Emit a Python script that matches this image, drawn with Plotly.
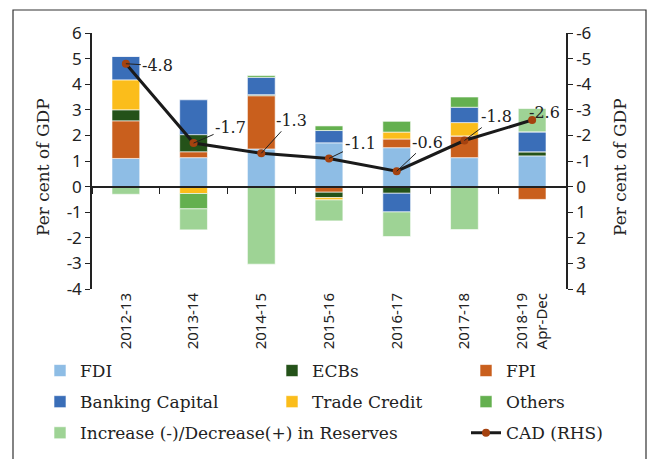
import plotly.graph_objects as go

categories = ["2012-13", "2013-14", "2014-15", "2015-16", "2016-17", "2017-18", "2018-19<br>Apr-Dec"]
fdi = [1.10, 1.13, 1.47, 1.71, 1.52, 1.13, 1.20]
fpi = [1.47, 0.23, 2.08, -0.22, 0.34, 0.85, -0.50]
ecbs = [0.43, 0.67, 0.04, -0.21, -0.26, 0.00, 0.16]
trade_credit = [1.17, -0.27, 0.00, -0.09, 0.27, 0.52, 0.00]
banking = [0.92, 1.36, 0.68, 0.48, -0.73, 0.60, 0.78]
others = [0.00, -0.60, 0.07, 0.18, 0.42, 0.40, 0.00]
reserves = [-0.30, -0.82, -3.03, -0.82, -0.96, -1.68, 0.91]
cad = [-4.8, -1.7, -1.3, -1.1, -0.6, -1.8, -2.6]
cad_labels = ["-4.8", "-1.7", "-1.3", "-1.1", "-0.6", "-1.8", "-2.6"]
label_offsets = [(32, 2), (37, -16), (30, -33), (31, -15), (31, -29), (32, -24), (12, -8)]

left_tick_vals = [-4, -3, -2, -1, 0, 1, 2, 3, 4, 5, 6]
left_tick_text = ["-4", "-3", "-2", "-1", "0", "1", "2", "3", "4", "5", "6"]
right_tick_vals = [4, 3, 2, 1, 0, -1, -2, -3, -4, -5, -6]
right_tick_text = ["4", "3", "2", "1", "0", "-1", "-2", "-3", "-4", "-5", "-6"]

SERIF = "DejaVu Serif, serif"
SANS = "Noto Sans, Liberation Sans, sans-serif"
INK = "#222"

# stacking order (bottom to top): FDI, FPI, ECBs, Trade Credit, Banking, Others, Reserves
series = [
    ("FDI", fdi, "#8EBDE5", "legend", 1),
    ("FPI", fpi, "#C95F1D", "legend3", 1),
    ("ECBs", ecbs, "#245219", "legend2", 1),
    ("Trade Credit", trade_credit, "#FBBD1B", "legend2", 2),
    ("Banking Capital", banking, "#3A6EB8", "legend", 2),
    ("Others", others, "#64B04F", "legend3", 2),
    ("Increase (-)/Decrease(+) in Reserves", reserves, "#9ED395", "legend", 3),
]

fig = go.Figure()
for name, vals, color, leg, rank in series:
    fig.add_trace(go.Bar(
        x=categories, y=vals, name=name,
        marker=dict(color=color, line=dict(color="rgba(255,255,255,0.6)", width=1)),
        legend=leg, legendrank=rank, legendgroup=name,
    ))

fig.add_trace(go.Scatter(
    x=categories, y=cad, name="CAD (RHS)", xaxis="x2", yaxis="y2",
    mode="lines+markers",
    line=dict(color="#1a1a1a", width=3),
    marker=dict(color="#A5420F", size=8),
    legend="legend3", legendrank=3, legendgroup="CAD",
))

for cat, v, lab, (ax, ay) in zip(categories, cad, cad_labels, label_offsets):
    fig.add_annotation(
        x=cat, y=v, xref="x2", yref="y2", text=lab,
        showarrow=True, arrowhead=0, arrowwidth=1, arrowcolor=INK,
        ax=ax, ay=ay, standoff=0,
        font=dict(family=SERIF, size=16, color=INK),
    )

# axis titles
for xpos in [(43 - 92) / 474, (620 - 92) / 474]:
    fig.add_annotation(
        x=xpos, y=(289 - 167) / 256, xref="paper", yref="paper",
        xanchor="center", yanchor="middle",
        text="Per cent of GDP", textangle=-90, showarrow=False,
        font=dict(family=SERIF, size=17, color=INK),
    )

legend_common = dict(
    orientation="v", xref="container", yref="container",
    xanchor="left", yanchor="top", bgcolor="rgba(0,0,0,0)",
    font=dict(family=SERIF, size=17, color=INK),
    tracegroupgap=6, itemwidth=30,
)

fig.update_layout(
    width=650, height=459,
    margin=dict(l=92, r=84, t=33, b=170, autoexpand=False),
    paper_bgcolor="white", plot_bgcolor="white",
    barmode="relative", bargap=0.59,
    showlegend=True,
    legend=dict(x=40 / 650, y=1 - 353 / 459, **legend_common),
    legend2=dict(x=272 / 650, y=1 - 353 / 459, **legend_common),
    legend3=dict(x=466 / 650, y=1 - 353 / 459, **legend_common),
    xaxis=dict(
        type="category", showline=False, ticks="", showgrid=False,
        tickangle=-90, tickfont=dict(family=SANS, size=15, color=INK),
    ),
    xaxis2=dict(
        type="category", overlaying="x", anchor="free", position=0.4,
        matches="x",
        showticklabels=False, ticks="outside", tickson="boundaries",
        ticklen=7, tickcolor=INK,
        showline=True, linecolor=INK, linewidth=1.5, showgrid=False, zeroline=False,
    ),
    yaxis=dict(
        range=[-4, 6], tickvals=left_tick_vals, ticktext=left_tick_text,
        showgrid=False, zeroline=False,
        showline=True, linecolor=INK, linewidth=1.5,
        ticks="outside", ticklen=5, tickcolor=INK,
        tickfont=dict(family=SANS, size=17, color=INK),
    ),
    yaxis2=dict(
        range=[4, -6], tickvals=right_tick_vals, ticktext=right_tick_text,
        overlaying="y", side="right", showgrid=False, zeroline=False,
        showline=True, linecolor=INK, linewidth=1.5,
        ticks="outside", ticklen=5, tickcolor=INK,
        tickfont=dict(family=SANS, size=17, color=INK),
    ),
)

fig.add_shape(type="rect", xref="paper", yref="paper",
              x0=(13 - 92) / 474, x1=(646 - 92) / 474,
              y0=(289 - 462) / 256, y1=(289 - 10) / 256,
              line=dict(color="#333", width=1.2), layer="below")

fig.write_html("out.html", config={"displayModeBar": False},
               post_script="document.body.style.margin='0';")
